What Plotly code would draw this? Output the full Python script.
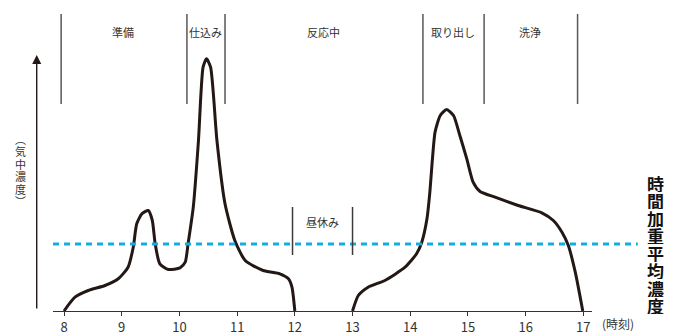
import plotly.graph_objects as go

# ---- data (hours, relative concentration) ----
hours_am = [8.0, 8.19, 8.42, 8.71, 8.94, 9.11, 9.20, 9.26, 9.35, 9.46, 9.53, 9.58, 9.66, 9.81,
            10.01, 10.10, 10.15, 10.24, 10.33, 10.41, 10.47, 10.54, 10.65, 10.79, 10.96,
            11.14, 11.45, 11.74, 11.89, 11.95, 12.0]
conc_am = [0, 13.8, 20.5, 25.5, 32.2, 43.8, 63.8, 87.2, 97.2, 100.5, 90.5, 67.2, 47.2, 41.5,
           43.2, 48.8, 67.2, 103.8, 170.5, 243.8, 252.2, 243.8, 170.5, 107.2, 70.5,
           50.5, 40.5, 37.2, 32.2, 23.8, 0]
hours_pm = [13.0, 13.10, 13.27, 13.56, 13.91, 14.11, 14.20, 14.29, 14.34, 14.38, 14.43, 14.52,
            14.63, 14.75, 14.86, 14.98, 15.09, 15.21, 15.47, 15.87, 16.28, 16.48, 16.63,
            16.74, 16.86, 16.99]
conc_pm = [0, 15.5, 23.8, 30.5, 43.8, 57.2, 68.8, 92.2, 118.8, 148.8, 178.8, 195.5,
           201.5, 195.5, 175.5, 152.2, 128.8, 119.5, 113.8, 105.5, 98.2, 90.5, 78.8,
           65.5, 38.8, 0]
twa_level = 67

tick_vals = [8, 9, 10, 11, 12, 13, 14, 15, 16, 17]
tick_text = [str(v) for v in tick_vals]

phase_bounds = [7.95, 10.13, 10.79, 14.22, 15.28, 16.9]
phase_labels = ["準備", "仕込み", "反応中", "取り出し", "洗浄"]
phase_label_x = [9.02, 10.46, 12.49, 14.74, 16.08]
lunch_bounds = [11.96, 13.0]
lunch_label = "昼休み"

y_label_chars = ["︵", "気", "中", "濃", "度", "︶"]
twa_label_chars = list("時間加重平均濃度")

FONT = "Noto Sans CJK JP"
INK = "#231815"

fig = go.Figure()
fig.add_trace(go.Scatter(
    x=hours_am + [None] + hours_pm,
    y=conc_am + [None] + conc_pm,
    mode="lines", line=dict(color=INK, width=3, shape="spline", smoothing=0.6),
    connectgaps=False, hoverinfo="skip", showlegend=False, cliponaxis=False))

shapes = []
# TWA dashed line
shapes.append(dict(type="line", xref="paper", yref="y", x0=0.0, x1=1.085, y0=twa_level, y1=twa_level,
                   line=dict(color="#12aee2", width=3, dash="6px,5px")))
# phase boundaries
for b in phase_bounds:
    shapes.append(dict(type="line", xref="x", yref="y", x0=b, x1=b, y0=207, y1=297,
                       line=dict(color="#5a5656", width=1.5)))
for b in lunch_bounds:
    shapes.append(dict(type="line", xref="x", yref="y", x0=b, x1=b, y0=56, y1=104,
                       line=dict(color="#3e3a39", width=1.5)))

annotations = []
for lab, xx in zip(phase_labels, phase_label_x):
    annotations.append(dict(x=xx, y=279, xref="x", yref="y", text=lab, showarrow=False,
                            xanchor="center", yanchor="middle",
                            font=dict(family=FONT, size=11, color="#333")))
annotations.append(dict(x=(lunch_bounds[0] + lunch_bounds[1]) / 2, y=89, xref="x", yref="y",
                        text=lunch_label, showarrow=False, xanchor="center", yanchor="middle",
                        font=dict(family=FONT, size=11, color="#333")))
# y axis arrow
annotations.append(dict(x=-0.0302, y=256, xref="paper", yref="y", ax=0, ay=255,
                        axref="pixel", ayref="pixel", text="", showarrow=True,
                        arrowhead=2, arrowsize=1.3, arrowwidth=1.4, arrowcolor=INK, standoff=0))
# vertical y label
for i, ch in enumerate(y_label_chars):
    annotations.append(dict(x=-0.0612, y=311 - (139 + i * 12.4), xref="paper", yref="y", text=ch,
                            showarrow=False, xanchor="center", yanchor="middle",
                            height=12, valign="middle",
                            font=dict(family=FONT, size=11, color="#333")))
# vertical TWA label
for i, ch in enumerate(twa_label_chars):
    annotations.append(dict(x=1.117, y=311 - (183.3 + i * 17.49), xref="paper", yref="y", text=ch,
                            showarrow=False, xanchor="center", yanchor="middle",
                            height=17, valign="middle",
                            font=dict(family=FONT, size=17, color="#111", weight="bold")))
# x-axis unit label (below the axis, so paper-referenced)
annotations.append(dict(x=1.048, y=-0.0386, xref="paper", yref="paper", text="(時刻)", showarrow=False,
                        xanchor="center", yanchor="middle",
                        font=dict(family=FONT, size=12, color="#333")))

fig.update_layout(
    width=678, height=336,
    margin=dict(l=53, r=86, t=0, b=25),
    paper_bgcolor="white", plot_bgcolor="white",
    showlegend=False,
    xaxis=dict(range=[7.809, 17.150], tickmode="array", tickvals=tick_vals, ticktext=tick_text,
               showgrid=False, zeroline=False, showline=True, linecolor="#333", linewidth=1.3,
               ticks="outside", ticklen=4, tickwidth=1.3, tickcolor="#333",
               tickfont=dict(family=FONT, size=13, color="#333"), fixedrange=True),
    yaxis=dict(range=[0, 311], visible=False, fixedrange=True),
    shapes=shapes, annotations=annotations,
)

fig.write_html("out.html", config={"displayModeBar": False},
               post_script="document.body.style.margin='0';document.body.style.overflow='hidden';")
